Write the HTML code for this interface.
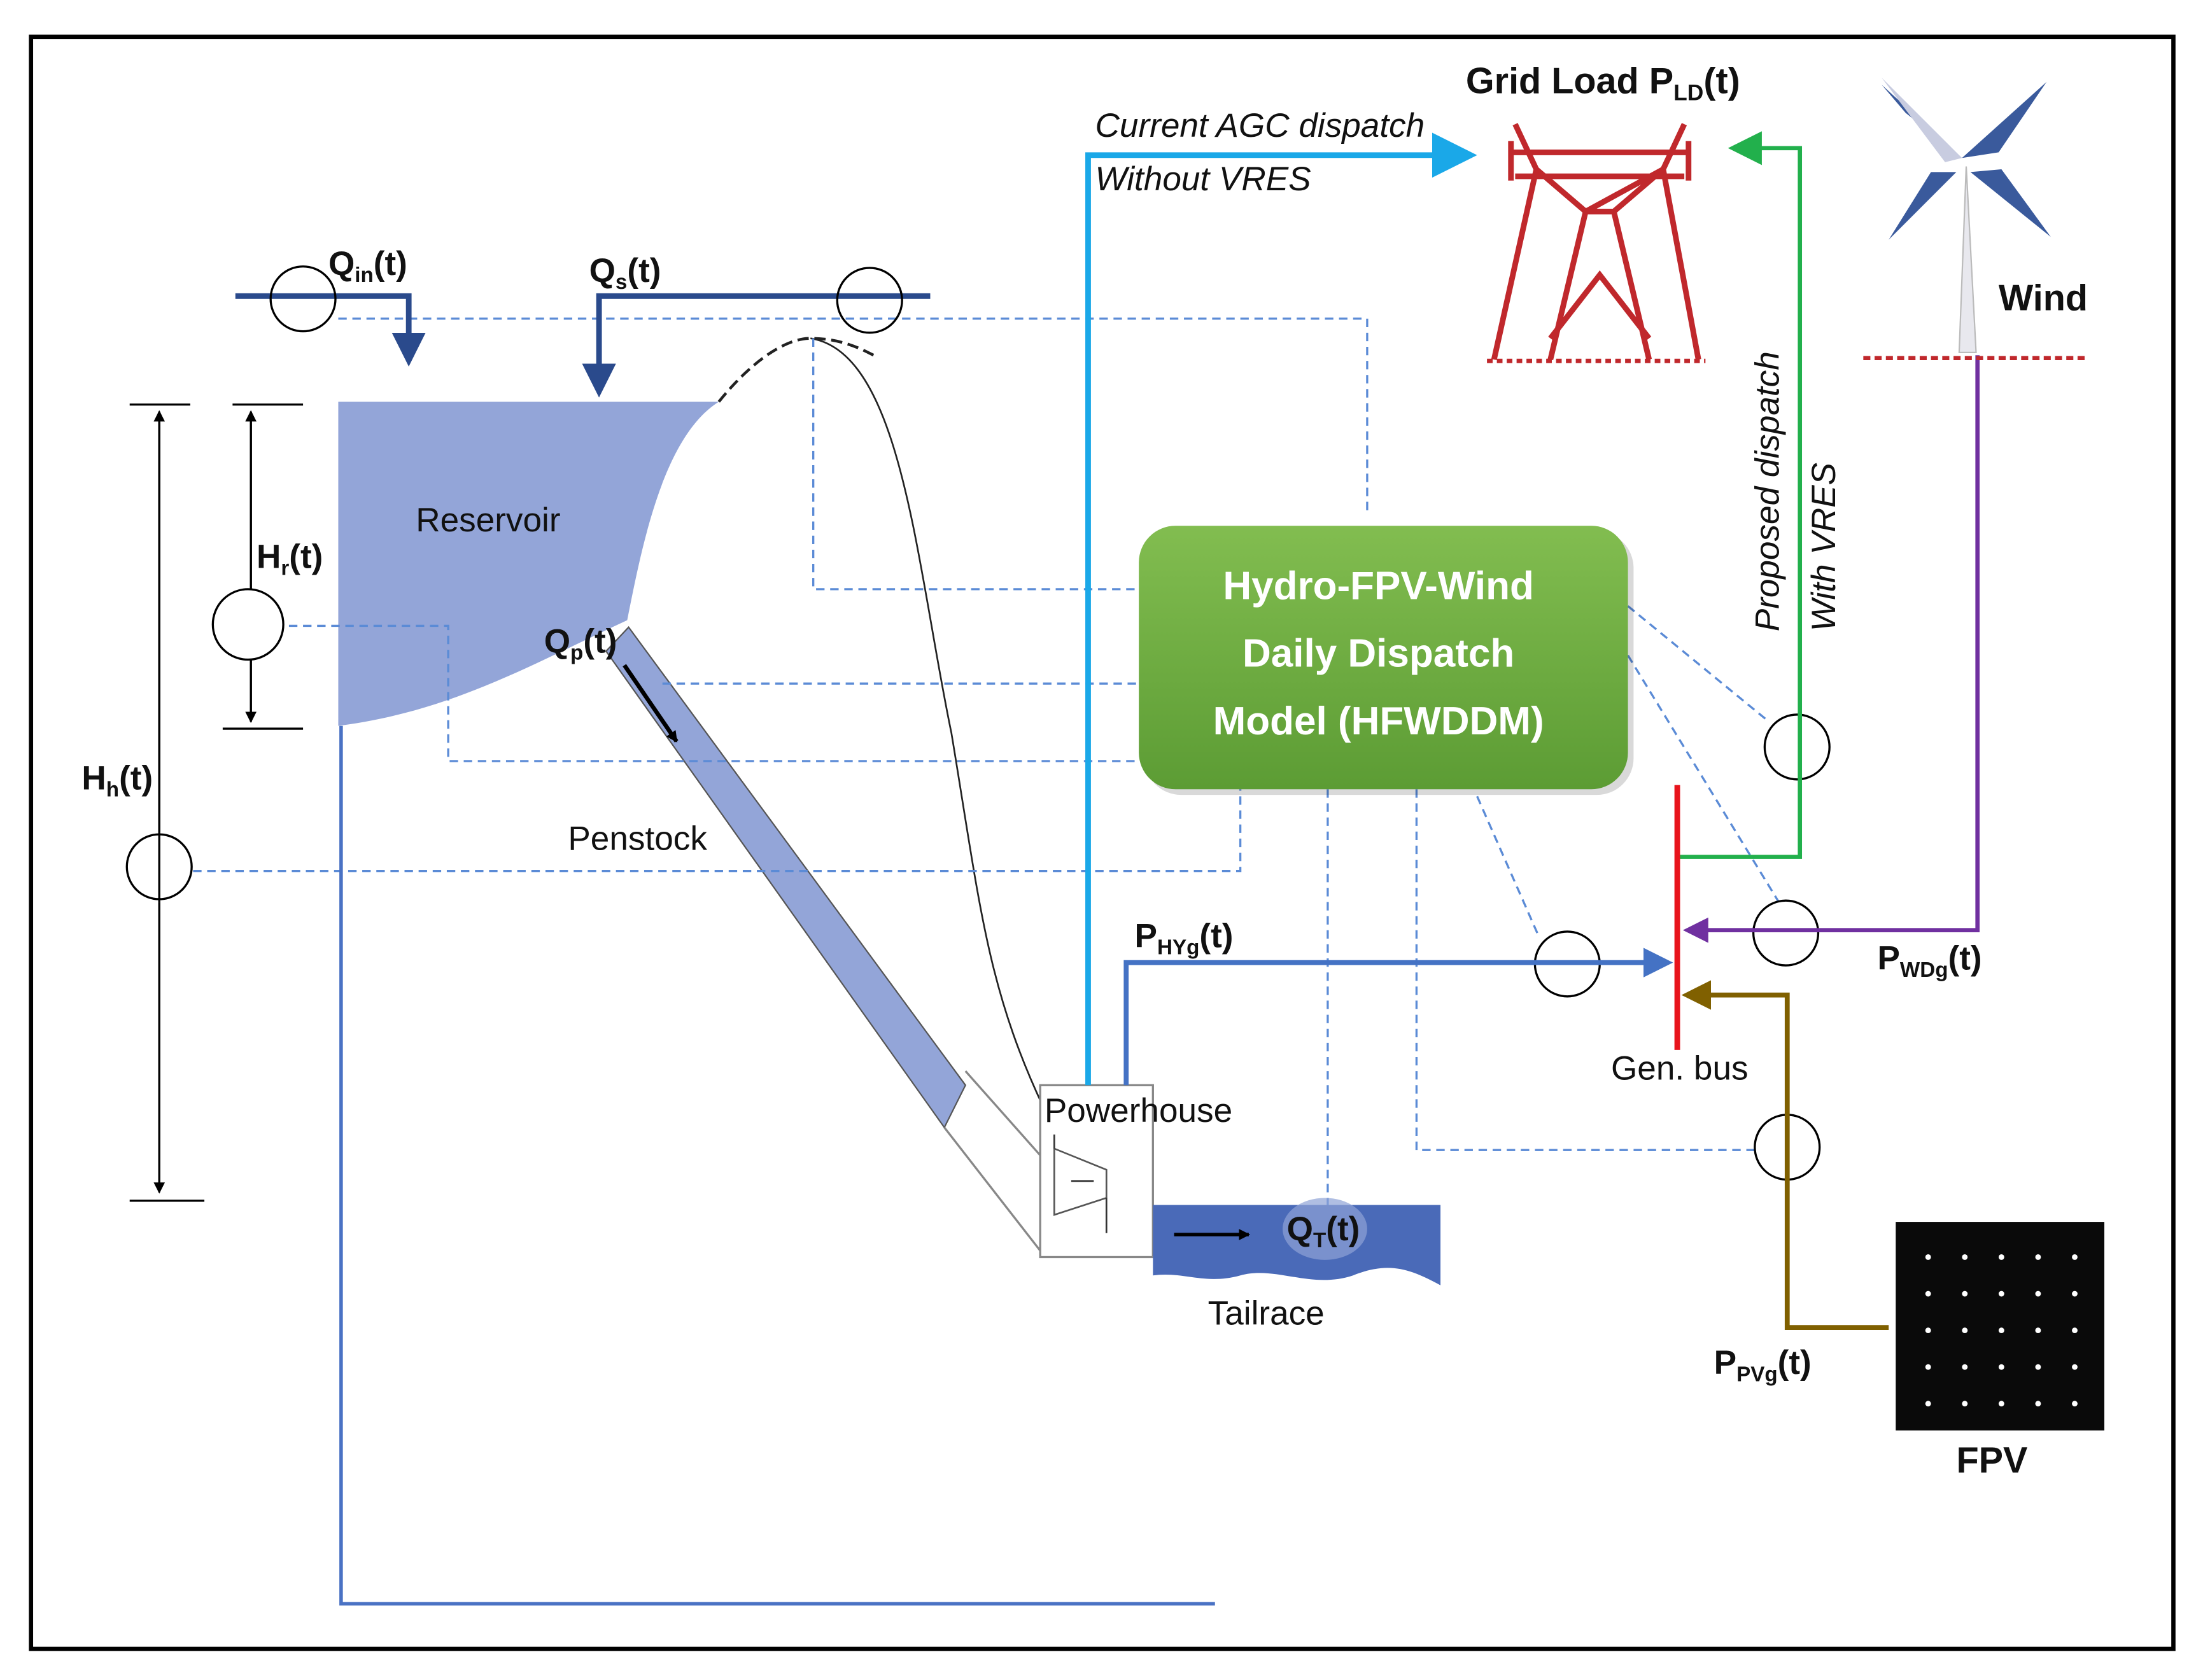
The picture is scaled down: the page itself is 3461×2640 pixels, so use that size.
<!DOCTYPE html>
<html><head><meta charset="utf-8"><style>
html,body{margin:0;padding:0;background:#fff;}
svg{display:block;}
text{font-family:"Liberation Sans",sans-serif;}
</style></head><body>
<svg width="3461" height="2640" viewBox="0 0 1563 1192" xmlns="http://www.w3.org/2000/svg">
<defs>
<linearGradient id="g" x1="0" y1="0" x2="0" y2="1"><stop offset="0" stop-color="#82bd50"/><stop offset="1" stop-color="#5c9c34"/></linearGradient>
<marker id="aC" markerWidth="8" markerHeight="8" refX="6" refY="4" orient="auto" markerUnits="strokeWidth"><path d="M0,0 L8,4 L0,8 z" fill="#1aa8e8"/></marker>
<marker id="aG" markerWidth="8" markerHeight="8" refX="6" refY="4" orient="auto" markerUnits="strokeWidth"><path d="M0,0 L8,4 L0,8 z" fill="#22b04c"/></marker>
<marker id="aB" markerWidth="6" markerHeight="6" refX="4" refY="3" orient="auto" markerUnits="strokeWidth"><path d="M0,0 L6,3 L0,6 z" fill="#4472c4"/></marker>
<marker id="aP" markerWidth="6" markerHeight="6" refX="4" refY="3" orient="auto" markerUnits="strokeWidth"><path d="M0,0 L6,3 L0,6 z" fill="#7030a0"/></marker>
<marker id="aBr" markerWidth="6" markerHeight="6" refX="4" refY="3" orient="auto" markerUnits="strokeWidth"><path d="M0,0 L6,3 L0,6 z" fill="#806000"/></marker>
<marker id="aD" markerWidth="6" markerHeight="6" refX="4" refY="3" orient="auto" markerUnits="strokeWidth"><path d="M0,0 L6,3 L0,6 z" fill="#2a4a8c"/></marker>
<marker id="aK" markerWidth="8" markerHeight="8" refX="7" refY="4" orient="auto" markerUnits="userSpaceOnUse"><path d="M0,0 L8,4 L0,8 z" fill="#000"/></marker>
</defs>
<rect x="0" y="0" width="1563" height="1192" fill="#fff"/>
<rect x="22" y="26" width="1520" height="1144" fill="none" stroke="#000" stroke-width="3"/>

<!-- reservoir -->
<path d="M240,285 H510 C470,310 455,390 445,440 C380,470 320,505 240,515 Z" fill="#93a5d8"/>
<!-- dam outline -->
<path d="M510,285 C530,260 555,240 575,240 C600,240 615,250 620,252" fill="none" stroke="#222" stroke-width="2" stroke-dasharray="8,4"/>
<path d="M575,240 C640,250 650,400 675,520 C695,640 700,700 740,785" fill="none" stroke="#222" stroke-width="1.2"/>
<!-- penstock -->
<path d="M430,462 L446,445 L685,770 L670,800 Z" fill="#93a5d8" stroke="#555" stroke-width="1"/>
<path d="M685,760 L740,822 M670,800 L740,890" stroke="#888" stroke-width="1.5"/>

<!-- dashed lines -->
<g fill="none" stroke="#5b8bd6" stroke-width="1.5" stroke-dasharray="6,4">
<path d="M240,226 H970 V365"/>
<path d="M577,240 V418 H808"/>
<path d="M205,444 H318 V540 H808"/>
<path d="M470,485 H808"/>
<path d="M137,618 H880 V560"/>
<path d="M942,560 V855"/>
<path d="M1005,560 V816 H1245"/>
<path d="M1048,565 L1092,665"/>
<path d="M1155,430 L1255,512"/>
<path d="M1155,465 L1262,640"/>
</g>

<!-- powerhouse -->
<rect x="738" y="770" width="80" height="122" fill="#fff" stroke="#888" stroke-width="1.5"/>
<path d="M748,815 L785,830 V850 L748,862 Z" fill="none" stroke="#555" stroke-width="1.2"/>
<path d="M760,838 H776 M785,850 V875 M748,805 V815" stroke="#333" stroke-width="1.2"/>
<!-- tailrace -->
<path d="M818,855 H1022 V912 C1000,900 985,895 960,905 C930,915 905,898 880,905 C855,912 840,902 818,905 Z" fill="#4a6ab8"/>
<ellipse cx="940" cy="872" rx="30" ry="22" fill="#8fa3d6" opacity="0.7"/>
<path d="M833,876 H886" stroke="#000" stroke-width="2.5" marker-end="url(#aK)"/>
<!-- Qp arrow -->
<path d="M443,472 L480,526" stroke="#000" stroke-width="3" marker-end="url(#aK)"/>

<!-- Q lines -->
<path d="M167,210 H290 V252" fill="none" stroke="#2a4a8c" stroke-width="4" marker-end="url(#aD)"/>
<path d="M660,210 H425 V274" fill="none" stroke="#2a4a8c" stroke-width="4" marker-end="url(#aD)"/>
<g fill="none" stroke="#000" stroke-width="1.5">
<circle cx="215" cy="212" r="23"/><circle cx="617" cy="213" r="23"/>
<circle cx="176" cy="443" r="25"/><circle cx="113" cy="615" r="23"/>
<circle cx="1112" cy="684" r="23"/><circle cx="1275" cy="530" r="23"/>
<circle cx="1267" cy="662" r="23"/><circle cx="1268" cy="814" r="23"/>
</g>
<!-- heights -->
<g stroke="#000" stroke-width="1.5">
<path d="M92,287 H135 M92,852 H145 M165,287 H215 M158,517 H215"/>
<path d="M113,292 V590 M113,640 V846" marker-end="url(#aK)"/>
<path d="M113,640 V292" marker-end="url(#aK)"/>
<path d="M178,292 V418 M178,468 V512"/>
<path d="M178,468 V512" marker-end="url(#aK)"/>
<path d="M178,418 V292" marker-end="url(#aK)"/>
</g>
<!-- long blue -->
<path d="M242,515 V1138 H862" fill="none" stroke="#4a72c4" stroke-width="2.5"/>

<!-- green box -->
<rect x="812" y="377" width="347" height="187" rx="26" fill="#000" opacity="0.15"/>
<rect x="808" y="373" width="347" height="187" rx="26" fill="url(#g)"/>
<g fill="#fff" font-weight="bold" font-size="28" text-anchor="middle">
<text x="978" y="425">Hydro-FPV-Wind</text>
<text x="978" y="473">Daily Dispatch</text>
<text x="978" y="521">Model (HFWDDM)</text>
</g>

<!-- cyan -->
<path d="M772,770 V110 H1040" fill="none" stroke="#1aa8e8" stroke-width="4" marker-end="url(#aC)"/>
<!-- PHY -->
<path d="M799,770 V683 H1180" fill="none" stroke="#4472c4" stroke-width="3.5" marker-end="url(#aB)"/>
<!-- green -->
<path d="M1192,608 H1277 V105 H1232" fill="none" stroke="#22b04c" stroke-width="3" marker-end="url(#aG)"/>
<!-- purple -->
<path d="M1403,252 V660 H1200" fill="none" stroke="#7030a0" stroke-width="3" marker-end="url(#aP)"/>
<!-- brown -->
<path d="M1340,942 H1268 V706 H1200" fill="none" stroke="#806000" stroke-width="3.5" marker-end="url(#aBr)"/>
<!-- gen bus -->
<path d="M1190,557 V745" stroke="#e8141c" stroke-width="4"/>

<!-- tower -->
<g fill="none" stroke="#c0282c" stroke-width="4">
<path d="M1075,88 L1090,120 L1060,255 M1195,88 L1180,120 L1205,255"/>
<path d="M1072,108 H1198 M1075,125 H1195 M1090,120 L1125,150 L1180,120 M1125,150 H1145 L1180,120"/>
<path d="M1125,150 L1100,255 M1145,150 L1170,255 M1100,240 L1135,195 L1170,240"/>
<path d="M1072,100 V128 M1198,100 V128"/>
</g>
<path d="M1055,256 H1210" stroke="#c0282c" stroke-width="3" stroke-dasharray="4,3"/>
<!-- wind turbine -->
<path d="M1395,118 L1390,250 H1402 Z" fill="#e8e8ee" stroke="#bbb"/>
<g fill="#3a5a9c">
<path d="M1392,112 L1335,60 L1352,80 Z M1392,112 L1452,58 L1418,108 Z M1398,122 L1455,168 L1420,120 Z M1388,122 L1340,170 L1370,122 Z"/>
</g>
<path d="M1392,112 L1335,55 L1380,115 Z" fill="#c8cce0"/>
<path d="M1322,254 H1480" stroke="#c0282c" stroke-width="3" stroke-dasharray="5,3"/>
<!-- FPV -->
<rect x="1345" y="867" width="148" height="148" fill="#0a0a0a"/>
<g fill="#fff">
<circle cx="1368" cy="892" r="2"/><circle cx="1394" cy="892" r="2"/><circle cx="1420" cy="892" r="2"/><circle cx="1446" cy="892" r="2"/><circle cx="1472" cy="892" r="2"/>
<circle cx="1368" cy="918" r="2"/><circle cx="1394" cy="918" r="2"/><circle cx="1420" cy="918" r="2"/><circle cx="1446" cy="918" r="2"/><circle cx="1472" cy="918" r="2"/>
<circle cx="1368" cy="944" r="2"/><circle cx="1394" cy="944" r="2"/><circle cx="1420" cy="944" r="2"/><circle cx="1446" cy="944" r="2"/><circle cx="1472" cy="944" r="2"/>
<circle cx="1368" cy="970" r="2"/><circle cx="1394" cy="970" r="2"/><circle cx="1420" cy="970" r="2"/><circle cx="1446" cy="970" r="2"/><circle cx="1472" cy="970" r="2"/>
<circle cx="1368" cy="996" r="2"/><circle cx="1394" cy="996" r="2"/><circle cx="1420" cy="996" r="2"/><circle cx="1446" cy="996" r="2"/><circle cx="1472" cy="996" r="2"/>
</g>

<!-- labels -->
<g fill="#111" font-size="24">
<text x="295" y="377">Reservoir</text>
<text x="403" y="603">Penstock</text>
<text x="741" y="796">Powerhouse</text>
<text x="857" y="940">Tailrace</text>
<text x="1143" y="766">Gen. bus</text>
<text x="777" y="97" font-style="italic">Current AGC dispatch</text>
<text x="777" y="135" font-style="italic">Without VRES</text>
<text transform="translate(1262,448) rotate(-90)" font-style="italic">Proposed dispatch</text>
<text transform="translate(1302,448) rotate(-90)" font-style="italic">With VRES</text>
</g>
<g fill="#111" font-size="24" font-weight="bold">
<text x="233" y="195">Q<tspan font-size="15" dy="5">in</tspan><tspan dy="-5">(t)</tspan></text>
<text x="418" y="200">Q<tspan font-size="15" dy="5">s</tspan><tspan dy="-5">(t)</tspan></text>
<text x="182" y="403">H<tspan font-size="15" dy="5">r</tspan><tspan dy="-5">(t)</tspan></text>
<text x="58" y="560">H<tspan font-size="15" dy="5">h</tspan><tspan dy="-5">(t)</tspan></text>
<text x="386" y="463">Q<tspan font-size="15" dy="5">p</tspan><tspan dy="-5">(t)</tspan></text>
<text x="913" y="880">Q<tspan font-size="15" dy="5">T</tspan><tspan dy="-5">(t)</tspan></text>
<text x="805" y="672">P<tspan font-size="15" dy="5">HYg</tspan><tspan dy="-5">(t)</tspan></text>
<text x="1332" y="688">P<tspan font-size="15" dy="5">WDg</tspan><tspan dy="-5">(t)</tspan></text>
<text x="1216" y="975">P<tspan font-size="15" dy="5">PVg</tspan><tspan dy="-5">(t)</tspan></text>
<text x="1040" y="66" font-size="26">Grid Load P<tspan font-size="16" dy="5">LD</tspan><tspan dy="-5">(t)</tspan></text>
<text x="1418" y="220" font-size="26">Wind</text>
<text x="1388" y="1045" font-size="26">FPV</text>
</g>
</svg>
</body></html>
